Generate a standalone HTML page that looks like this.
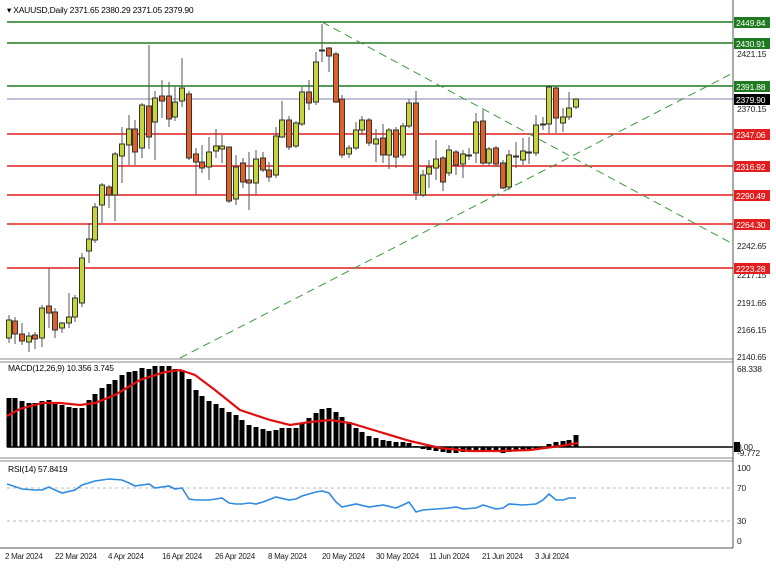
<!DOCTYPE html><html><head><style>body{margin:0;background:#fff}svg{display:block;font-family:"Liberation Sans",sans-serif}</style></head><body>
<svg id="svg" width="776" height="569" viewBox="0 0 776 569" xmlns="http://www.w3.org/2000/svg">
<rect width="776" height="569" fill="#fff"/>
<g stroke-width="1.6">
<line x1="7" y1="22" x2="733" y2="22" stroke="#1e7a1e"/>
<line x1="7" y1="43" x2="733" y2="43" stroke="#1e7a1e"/>
<line x1="7" y1="86" x2="733" y2="86" stroke="#1e7a1e"/>
<line x1="7" y1="134" x2="733" y2="134" stroke="#e41e1e"/>
<line x1="7" y1="166" x2="733" y2="166" stroke="#e41e1e"/>
<line x1="7" y1="195" x2="733" y2="195" stroke="#e41e1e"/>
<line x1="7" y1="224" x2="733" y2="224" stroke="#e41e1e"/>
<line x1="7" y1="268" x2="733" y2="268" stroke="#e41e1e"/>
</g>
<line x1="7" y1="99" x2="733" y2="99" stroke="#8080b0" stroke-width="1"/>
<line x1="322" y1="22" x2="733" y2="244" stroke="#3a9a3a" stroke-dasharray="8,5"/>
<line x1="180" y1="358" x2="733" y2="73" stroke="#3a9a3a" stroke-dasharray="8,5"/>
<g id="c"></g>
<g id="m"></g>
<line x1="7" y1="447" x2="733" y2="447" stroke="#000" stroke-width="1.5"/>
<polyline fill="none" stroke="#e01010" stroke-width="2.2" points="7,416 20,409 42,403 60,403 80,405 95,403 115,395 140,380 165,372 180,370 195,375 215,390 240,410 270,420 290,425 310,422 330,420 350,423 380,432 410,441 440,448 470,451 500,451 530,450 560,446 578,443"/>
<text x="8" y="371" font-size="8.5" letter-spacing="-0.2" fill="#000">MACD(12,26,9) 10.356 3.745</text>
<line x1="7" y1="488" x2="733" y2="488" stroke="#bbb" stroke-dasharray="3,3"/>
<line x1="7" y1="521" x2="733" y2="521" stroke="#bbb" stroke-dasharray="3,3"/>
<polyline fill="none" stroke="#2f8be0" stroke-width="1.6" points="7,484 22,489 35,490 42,490 49,487 55,490 62,493 75,490 82,485 95,481 109,479 122,480 129,483 135,486 142,485 149,484 155,488 162,487 169,486 175,489 182,488 189,499 196,500 209,500 216,499 222,498 229,503 236,504 242,504 249,503 256,504 263,502 276,497 289,500 296,499 302,496 316,492 322,491 329,493 336,502 342,507 356,504 369,507 383,505 396,508 403,505 409,502 416,512 423,510 436,509 449,508 456,507 463,509 476,508 483,505 496,509 503,508 509,504 523,505 536,504 543,500 549,494 556,500 563,500 569,498 576,498"/>
<text x="8" y="472" font-size="8.5" letter-spacing="-0.2" fill="#000">RSI(14) 57.8419</text>
<g stroke="#888" stroke-width="1">
<line x1="0" y1="359" x2="733" y2="359"/><line x1="0" y1="362" x2="733" y2="362"/>
<line x1="0" y1="458" x2="733" y2="458"/><line x1="0" y1="461" x2="733" y2="461"/>
</g>
<line x1="733" y1="0" x2="733" y2="548" stroke="#555"/>
<line x1="0" y1="548" x2="733" y2="548" stroke="#555"/>
<text x="7" y="13" font-size="8.5" letter-spacing="-0.2" fill="#000">▾ XAUUSD,Daily  2371.65 2380.29 2371.05 2379.90</text>
<g font-size="8.5" letter-spacing="-0.2" fill="#222">
<text x="737" y="57">2421.15</text><text x="737" y="112">2370.15</text>
<text x="737" y="249">2242.65</text><text x="737" y="278">2217.15</text>
<text x="737" y="306">2191.65</text><text x="737" y="333">2166.15</text><text x="737" y="360">2140.65</text>
<text x="737" y="372">68.338</text><text x="737" y="456">-9.772</text>
<text x="737" y="471">100</text><text x="737" y="491">70</text><text x="737" y="524">30</text><text x="737" y="544">0</text>
</g>
<g font-size="8.5" letter-spacing="-0.2" fill="#fff">
<rect x="734" y="17" width="36" height="11" fill="#1e7a1e"/><text x="736" y="26">2449.84</text>
<rect x="734" y="38" width="36" height="11" fill="#1e7a1e"/><text x="736" y="47">2430.91</text>
<rect x="734" y="81" width="36" height="11" fill="#1e7a1e"/><text x="736" y="90">2391.88</text>
<rect x="734" y="94" width="36" height="11" fill="#000"/><text x="736" y="103">2379.90</text>
<rect x="734" y="129" width="36" height="11" fill="#e41e1e"/><text x="736" y="138">2347.06</text>
<rect x="734" y="161" width="36" height="11" fill="#e41e1e"/><text x="736" y="170">2316.92</text>
<rect x="734" y="190" width="36" height="11" fill="#e41e1e"/><text x="736" y="199">2290.49</text>
<rect x="734" y="219" width="36" height="11" fill="#e41e1e"/><text x="736" y="228">2264.30</text>
<rect x="734" y="263" width="36" height="11" fill="#e41e1e"/><text x="736" y="272">2223.28</text>
<rect x="734" y="442" width="6" height="10" fill="#000"/><text x="737" y="450" fill="#222">0.00</text>
</g>
<g font-size="8" letter-spacing="-0.3" fill="#222">
<text x="5" y="559">2 Mar 2024</text><text x="55" y="559">22 Mar 2024</text><text x="108" y="559">4 Apr 2024</text>
<text x="162" y="559">16 Apr 2024</text><text x="215" y="559">26 Apr 2024</text><text x="268" y="559">8 May 2024</text>
<text x="322" y="559">20 May 2024</text><text x="376" y="559">30 May 2024</text><text x="429" y="559">11 Jun 2024</text>
<text x="482" y="559">21 Jun 2024</text><text x="535" y="559">3 Jul 2024</text>
</g>
</svg>
<script>
(function(){
var ns='http://www.w3.org/2000/svg';
function el(p,t,a){var e=document.createElementNS(ns,t);for(var k in a)e.setAttribute(k,a[k]);p.appendChild(e);}
var d=[[9,320,338,315,343,'b'],[15,321,334,317,344,'r'],[22,334,341,323,345,'r'],[29,336,342,332,352,'b'],[35,335,339,332,349,'r'],[42,308,338,305,347,'b'],[49,306,313,268,328,'r'],[55,312,330,308,338,'r'],[62,323,328,322,333,'b'],[69,317,323,293,328,'b'],[75,298,317,295,322,'b'],[82,258,303,253,307,'b'],[89,239,251,223,263,'b'],[95,207,240,203,243,'b'],[102,185,205,183,223,'b'],[109,187,195,185,208,'r'],[115,154,195,152,221,'b'],[122,144,156,127,183,'b'],[129,129,145,115,165,'b'],[135,129,152,120,165,'r'],[142,105,148,103,158,'b'],[149,106,137,45,149,'r'],[155,98,122,91,160,'b'],[162,96,101,80,118,'r'],[169,96,119,82,127,'r'],[175,102,117,87,121,'b'],[182,88,101,58,107,'b'],[189,94,158,91,160,'r'],[196,154,162,148,195,'r'],[202,162,168,145,173,'r'],[209,152,167,137,180,'b'],[216,146,151,129,158,'b'],[222,146,149,135,163,'b'],[229,147,201,147,203,'r'],[236,167,199,155,205,'b'],[243,163,182,158,188,'r'],[249,180,183,152,210,'r'],[256,159,183,150,195,'b'],[263,158,170,152,172,'r'],[269,170,177,162,182,'r'],[276,136,175,127,178,'b'],[282,120,137,101,138,'b'],[289,120,147,116,150,'r'],[296,123,146,121,148,'b'],[302,92,124,87,126,'b'],[309,92,103,80,110,'r'],[316,62,102,52,105,'b'],[322,50,51,24,62,'d'],[329,48,56,47,72,'r'],[336,54,102,52,103,'r'],[342,99,155,95,158,'r'],[349,148,154,145,158,'b'],[356,130,148,122,150,'b'],[362,120,130,116,135,'b'],[369,120,143,118,146,'r'],[376,139,144,129,162,'b'],[383,138,155,124,163,'r'],[389,130,155,128,169,'b'],[396,130,157,127,168,'r'],[403,126,155,123,158,'b'],[409,103,126,99,128,'b'],[416,103,193,91,200,'r'],[423,175,195,170,197,'b'],[429,167,174,160,188,'b'],[436,159,168,140,180,'b'],[443,158,182,156,191,'r'],[449,150,173,145,176,'b'],[456,152,165,150,175,'r'],[463,154,164,150,178,'b'],[469,155,156,148,160,'d'],[476,122,153,113,163,'b'],[483,121,163,110,165,'r'],[489,149,163,147,166,'b'],[496,148,164,146,167,'r'],[503,163,188,160,189,'r'],[509,155,187,150,190,'b'],[516,156,157,142,168,'d'],[523,151,160,138,165,'b'],[529,152,153,137,164,'d'],[536,125,153,115,156,'b'],[543,124,125,117,130,'d'],[549,87,124,86,133,'b'],[556,88,118,86,133,'r'],[563,117,123,108,132,'b'],[569,108,117,92,120,'b'],[576,99,107,98,109,'b']];
var c=document.getElementById('c');
d.forEach(function(q){var f=q[5]=='b'?'#c4d43a':q[5]=='r'?'#e0602a':'#222';
el(c,'line',{x1:q[0],y1:q[3],x2:q[0],y2:q[4],stroke:'#555','stroke-width':1});
el(c,'rect',{x:q[0]-2.5,y:q[1],width:5,height:Math.max(1,q[2]-q[1]),fill:f,stroke:'#333','stroke-width':1});});
var m=[[9,398],[15,398],[22,401],[29,403],[35,403],[42,401],[49,400],[55,402],[62,405],[69,407],[75,408],[82,408],[89,400],[95,394],[102,388],[109,384],[115,380],[122,375],[129,372],[135,371],[142,368],[149,369],[155,366],[162,366],[169,366],[175,369],[182,370],[189,379],[196,390],[202,396],[209,401],[216,404],[222,408],[229,412],[236,415],[242,420],[249,425],[256,427],[263,429],[269,431],[276,430],[282,428],[289,428],[296,428],[302,423],[309,418],[316,413],[322,409],[329,408],[336,412],[342,417],[349,422],[356,428],[362,432],[369,436],[376,438],[383,440],[389,441],[396,442],[403,442],[409,443],[416,446],[423,449],[429,450],[436,451],[443,452],[449,453],[456,453],[463,452],[469,451],[476,450],[483,451],[489,452],[496,452],[503,453],[509,452],[516,451],[523,451],[529,450],[536,449],[543,447],[549,444],[556,442],[563,441],[569,440],[576,435]];
var g=document.getElementById('m');
m.forEach(function(b){var z=447,t=Math.min(z,b[1]),bt=Math.max(z,b[1]);
el(g,'rect',{x:b[0]-2.5,y:t,width:5,height:Math.max(1,bt-t),fill:'#000'});});
})();
</script>
</body></html>
